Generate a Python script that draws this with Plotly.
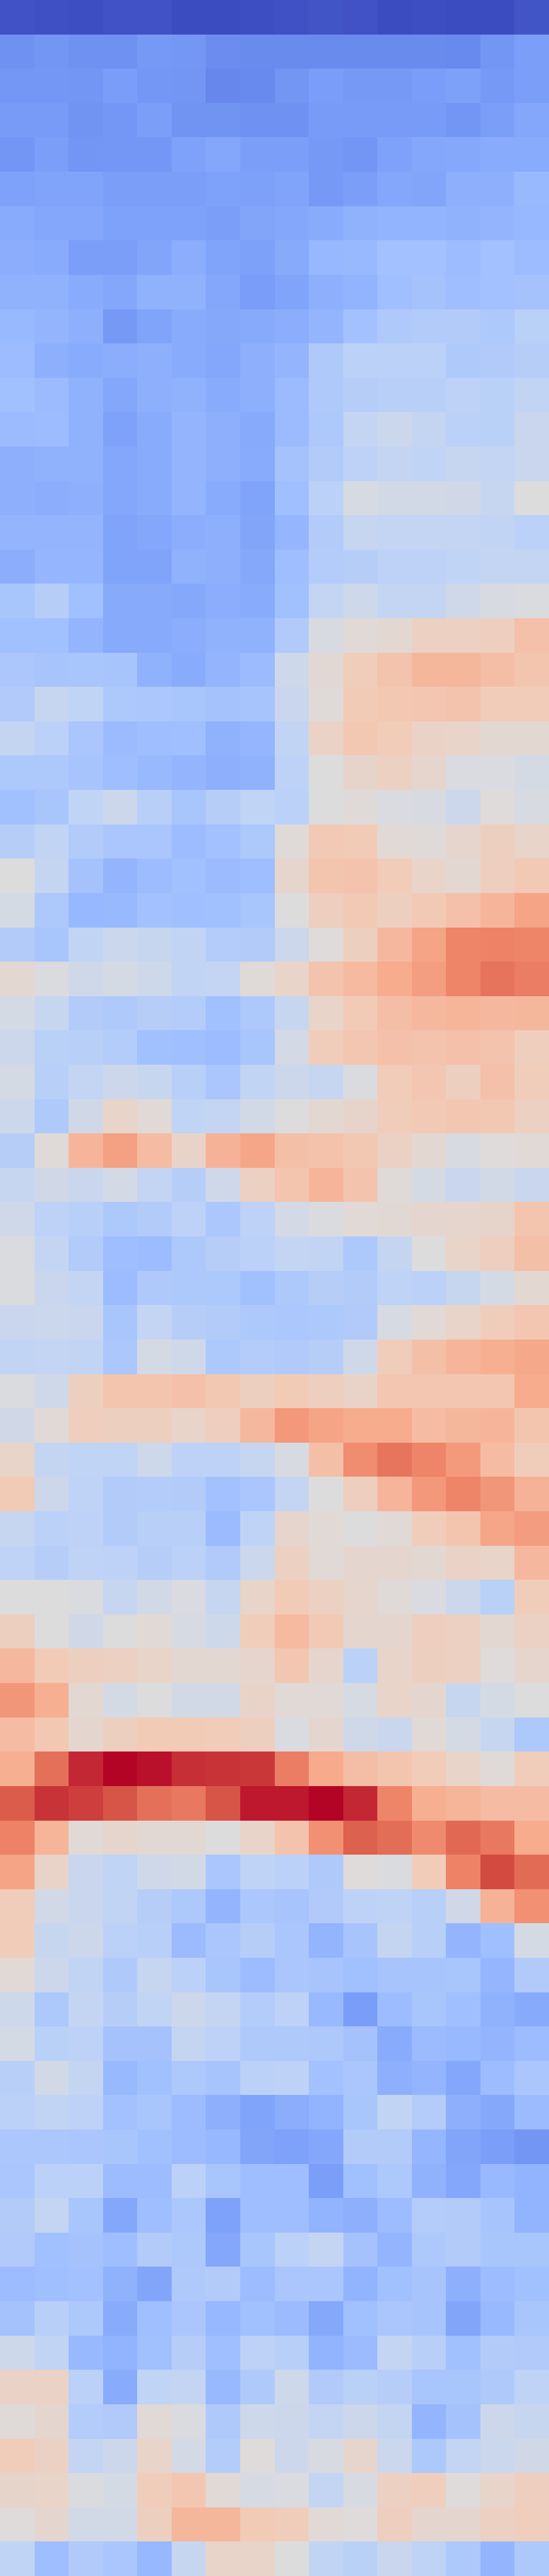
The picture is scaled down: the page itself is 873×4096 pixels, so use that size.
import plotly.graph_objects as go

row_00 = [.015,.01,.005,.015,.015,.0,.0,.005,.012,.02,.015,.0,.005,.0,.0,.02]
row_01 = [.165,.175,.165,.165,.185,.18,.155,.15,.15,.15,.15,.15,.15,.145,.175,.2]
row_02 = [.18,.18,.175,.195,.18,.175,.14,.145,.175,.195,.185,.185,.195,.205,.185,.2]
row_03 = [.19,.19,.17,.18,.2,.17,.17,.165,.165,.19,.19,.19,.19,.175,.2,.225]
row_04 = [.175,.2,.175,.18,.18,.21,.225,.2,.2,.185,.175,.21,.225,.23,.24,.24]
row_05 = [.21,.215,.215,.2,.2,.2,.21,.205,.215,.185,.2,.225,.22,.25,.255,.285]
row_06 = [.24,.225,.225,.21,.21,.21,.2,.22,.225,.24,.26,.265,.265,.26,.27,.28]
row_07 = [.245,.24,.2,.2,.22,.245,.215,.205,.235,.28,.285,.315,.315,.295,.315,.295]
row_08 = [.26,.26,.24,.225,.26,.26,.225,.195,.215,.25,.265,.305,.32,.3,.315,.32]
row_09 = [.285,.27,.255,.185,.215,.24,.23,.235,.245,.27,.315,.35,.36,.36,.345,.38]
row_10 = [.295,.255,.24,.245,.255,.24,.225,.25,.27,.35,.385,.385,.385,.35,.355,.37]
row_11 = [.31,.29,.26,.225,.255,.26,.24,.25,.29,.35,.37,.375,.375,.39,.38,.405]
row_12 = [.29,.295,.26,.21,.24,.27,.25,.235,.29,.345,.41,.435,.415,.385,.38,.43]
row_13 = [.25,.26,.26,.225,.24,.27,.25,.24,.32,.36,.39,.41,.4,.42,.41,.43]
row_14 = [.255,.245,.255,.225,.24,.27,.24,.215,.305,.385,.475,.46,.46,.455,.42,.495]
row_15 = [.27,.27,.27,.215,.225,.245,.255,.22,.275,.36,.42,.41,.41,.41,.405,.385]
row_16 = [.245,.275,.275,.215,.215,.26,.255,.23,.3,.365,.37,.39,.39,.4,.41,.41]
row_17 = [.33,.37,.31,.235,.235,.23,.245,.24,.31,.41,.445,.41,.41,.45,.48,.49]
row_18 = [.31,.31,.27,.235,.235,.245,.26,.26,.355,.48,.52,.53,.57,.57,.58,.635]
row_19 = [.34,.325,.33,.325,.26,.24,.27,.29,.445,.525,.59,.625,.665,.665,.645,.62]
row_20 = [.355,.42,.4,.345,.34,.33,.32,.325,.43,.51,.6,.61,.615,.625,.595,.595]
row_21 = [.415,.385,.335,.29,.3,.305,.26,.275,.405,.56,.61,.595,.56,.55,.53,.53]
row_22 = [.345,.345,.325,.3,.285,.27,.255,.26,.39,.5,.545,.57,.54,.485,.485,.47]
row_23 = [.31,.33,.4,.44,.375,.33,.37,.4,.385,.495,.51,.485,.48,.44,.505,.48]
row_24 = [.37,.405,.36,.335,.335,.295,.315,.345,.51,.605,.6,.515,.51,.54,.575,.55]
row_25 = [.5,.415,.32,.27,.295,.31,.29,.3,.54,.62,.625,.595,.55,.53,.58,.605]
row_26 = [.47,.345,.28,.285,.315,.305,.31,.33,.495,.58,.605,.575,.605,.635,.67,.72]
row_27 = [.36,.33,.405,.435,.425,.405,.365,.36,.44,.505,.575,.66,.72,.8,.805,.8]
row_28 = [.53,.49,.45,.47,.445,.405,.41,.51,.55,.625,.655,.7,.735,.8,.835,.815]
row_29 = [.47,.425,.36,.35,.37,.365,.31,.345,.425,.55,.6,.645,.66,.675,.66,.665]
row_30 = [.44,.38,.375,.365,.31,.305,.295,.33,.465,.59,.615,.635,.625,.635,.625,.585]
row_31 = [.47,.375,.41,.44,.425,.375,.335,.405,.44,.42,.49,.595,.615,.575,.635,.59]
row_32 = [.44,.35,.455,.55,.515,.4,.41,.46,.5,.53,.545,.59,.605,.615,.61,.57]
row_33 = [.37,.51,.67,.73,.65,.555,.68,.715,.64,.63,.61,.565,.53,.48,.505,.515]
row_34 = [.42,.455,.43,.465,.41,.37,.45,.57,.62,.67,.625,.51,.47,.43,.46,.43]
row_35 = [.45,.39,.375,.345,.36,.39,.34,.39,.465,.49,.52,.525,.535,.54,.545,.62]
row_36 = [.49,.41,.36,.3,.295,.345,.37,.385,.41,.405,.345,.415,.495,.55,.58,.64]
row_37 = [.49,.43,.41,.295,.35,.345,.345,.31,.345,.37,.36,.395,.385,.425,.47,.53]
row_38 = [.43,.435,.43,.33,.41,.37,.36,.345,.34,.345,.355,.475,.515,.55,.59,.615]
row_39 = [.405,.41,.405,.34,.47,.45,.345,.365,.355,.37,.45,.59,.64,.67,.69,.71]
row_40 = [.49,.45,.575,.62,.62,.635,.61,.575,.6,.58,.555,.615,.615,.615,.615,.7]
row_41 = [.455,.52,.585,.575,.575,.55,.58,.66,.75,.72,.7,.7,.65,.665,.67,.62]
row_42 = [.55,.415,.4,.4,.445,.39,.39,.42,.48,.64,.78,.83,.8,.745,.65,.59]
row_43 = [.6,.44,.395,.36,.365,.36,.315,.335,.41,.5,.58,.67,.75,.8,.755,.68]
row_44 = [.42,.385,.39,.36,.375,.375,.29,.395,.54,.52,.495,.52,.59,.62,.715,.74]
row_45 = [.395,.37,.395,.39,.37,.385,.355,.435,.57,.52,.535,.535,.53,.56,.55,.66]
row_46 = [.495,.495,.49,.42,.46,.485,.42,.55,.6,.57,.54,.51,.485,.44,.38,.59]
row_47 = [.575,.495,.455,.495,.52,.475,.445,.59,.655,.605,.535,.535,.58,.57,.53,.565]
row_48 = [.66,.6,.575,.57,.55,.53,.53,.54,.615,.54,.385,.55,.575,.57,.505,.54]
row_49 = [.755,.69,.53,.47,.495,.46,.46,.555,.52,.515,.475,.55,.535,.425,.47,.5]
row_50 = [.65,.61,.535,.575,.6,.6,.595,.575,.485,.535,.45,.43,.52,.47,.42,.345]
row_51 = [.69,.84,.955,1.0,.985,.945,.94,.935,.815,.705,.645,.62,.595,.55,.51,.59]
row_52 = [.88,.94,.925,.895,.84,.825,.895,.975,.975,1.0,.955,.8,.69,.675,.65,.65]
row_53 = [.805,.675,.52,.54,.525,.525,.5,.55,.625,.77,.87,.845,.785,.855,.825,.7]
row_54 = [.72,.555,.43,.4,.45,.46,.335,.395,.385,.35,.505,.49,.595,.805,.91,.85]
row_55 = [.59,.46,.43,.405,.37,.345,.27,.34,.325,.355,.39,.395,.375,.455,.68,.77]
row_56 = [.595,.425,.44,.385,.375,.29,.335,.37,.335,.27,.325,.415,.375,.27,.305,.47]
row_57 = [.52,.44,.405,.35,.42,.385,.33,.295,.335,.325,.31,.325,.325,.33,.275,.355]
row_58 = [.445,.345,.41,.37,.405,.44,.41,.365,.39,.285,.195,.295,.33,.305,.26,.235]
row_59 = [.47,.38,.39,.32,.32,.415,.39,.35,.35,.345,.32,.24,.29,.285,.27,.295]
row_60 = [.375,.46,.415,.285,.31,.345,.325,.385,.39,.315,.335,.255,.27,.225,.295,.335]
row_61 = [.385,.405,.39,.315,.33,.295,.25,.215,.245,.265,.33,.405,.365,.25,.23,.29]
row_62 = [.34,.34,.335,.33,.31,.295,.28,.22,.21,.225,.36,.36,.275,.22,.2,.175]
row_63 = [.335,.385,.385,.295,.295,.385,.33,.3,.3,.2,.31,.345,.26,.225,.285,.265]
row_64 = [.36,.41,.33,.225,.3,.34,.21,.3,.3,.265,.25,.295,.365,.36,.325,.265]
row_65 = [.355,.31,.32,.3,.36,.345,.225,.33,.385,.41,.32,.27,.345,.36,.33,.33]
row_66 = [.295,.305,.315,.26,.22,.35,.36,.295,.335,.335,.265,.31,.325,.25,.295,.31]
row_67 = [.32,.375,.345,.24,.305,.335,.28,.31,.29,.23,.31,.335,.325,.22,.285,.33]
row_68 = [.445,.405,.285,.265,.31,.37,.305,.39,.375,.265,.29,.41,.375,.31,.36,.355]
row_69 = [.56,.56,.385,.24,.4,.41,.285,.35,.445,.355,.38,.37,.33,.33,.35,.395]
row_70 = [.51,.535,.365,.355,.52,.49,.35,.445,.44,.41,.44,.415,.27,.32,.44,.425]
row_71 = [.59,.565,.41,.44,.55,.465,.365,.505,.44,.48,.54,.435,.345,.41,.435,.455]
row_72 = [.545,.55,.49,.47,.59,.615,.52,.475,.485,.41,.48,.57,.585,.505,.55,.58]
row_73 = [.505,.535,.46,.46,.575,.665,.665,.6,.59,.52,.505,.58,.535,.535,.57,.585]
row_74 = [.4,.3,.355,.335,.28,.42,.55,.55,.5,.405,.38,.43,.395,.345,.27,.345]

rows = [globals()[f"row_{i:02d}"] for i in range(75)]

coolwarm = [
    [0.0, "#3b4cc0"], [0.1, "#5977e3"], [0.2, "#7b9ff9"], [0.3, "#9ebeff"],
    [0.4, "#c0d4f5"], [0.5, "#dddcdc"], [0.6, "#f2cbb7"], [0.7, "#f7ac8e"],
    [0.8, "#ee8468"], [0.9, "#d65244"], [1.0, "#b40426"],
]

fig = go.Figure(go.Heatmap(z=rows, colorscale=coolwarm, zmin=0, zmax=1,
                           showscale=False, hoverongaps=False))
fig.update_layout(
    width=873, height=4096, margin=dict(l=0, r=0, t=0, b=0, pad=0),
    paper_bgcolor="white", plot_bgcolor="white",
    xaxis=dict(visible=False, range=[-0.5, 15.5], constrain="domain"),
    yaxis=dict(visible=False, range=[74.5, -0.5]),
)
fig.write_html("out.html", config={"displayModeBar": False},
               post_script="document.body.style.margin='0';document.documentElement.style.overflow='hidden';")
